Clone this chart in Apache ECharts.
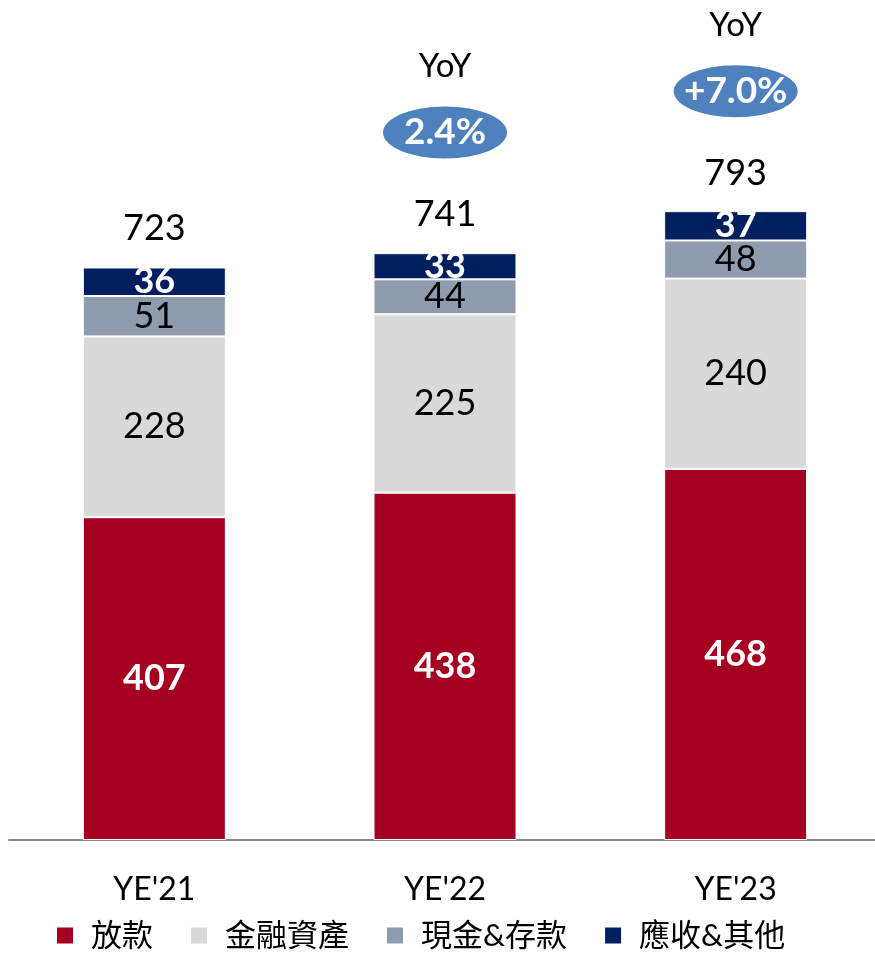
<!DOCTYPE html>
<html><head><meta charset="utf-8">
<script src="https://cdn.jsdelivr.net/npm/echarts@6/dist/echarts.min.js"></script>
<style>html,body{margin:0;padding:0;background:#fff;overflow:hidden;width:875px;height:953px}#c{width:890px;height:953px}</style>
</head><body><div id="c"></div>
<script>
const categories = ["YE'21", "YE'22", "YE'23"];
const loans = [407, 438, 468];
const finAssets = [228, 225, 240];
const cashDeposits = [51, 44, 48];
const receivables = [36, 33, 37];
const totals = [723, 741, 793];
const yoyLabels = [null, "2.4%", "+7.0%"];
const seriesNames = ["放款", "金融資產", "現金&存款", "應收&其他"];

const FONT = "Lato, 'Noto Sans CJK TC', sans-serif";
const chart = echarts.init(document.getElementById('c'));

function barSeries(name, data, color, labelColor, bold) {
  return {
    name, type: 'bar', stack: 'total', data, barWidth: 143,
    itemStyle: { color, borderColor: '#fff', borderWidth: 1 },
    label: { show: true, position: 'inside', color: labelColor, fontFamily: FONT,
      fontSize: 36, fontWeight: bold ? 'bold' : 'normal' }
  };
}

chart.setOption({
  animation: false,
  grid: { left: 9, width: 872, top: 47, bottom: 113 },
  legend: {
    bottom: -3, left: 50, itemWidth: 18, itemHeight: 18, itemGap: 36,
    icon: 'rect', data: seriesNames,
    textStyle: { fontFamily: FONT, fontSize: 31, color: '#000', padding: [0, 0, 0, 12] }
  },
  xAxis: {
    type: 'category', data: categories,
    axisLine: { lineStyle: { color: '#898989', width: 2 } },
    axisTick: { show: false },
    axisLabel: { color: '#000', fontFamily: FONT, fontSize: 32, margin: 34 }
  },
  yAxis: { type: 'value', min: 0, max: 1000, show: false, splitLine: { show: false } },
  series: [
    barSeries(seriesNames[0], loans, '#A50021', '#fff', true),
    barSeries(seriesNames[1], finAssets, '#D9D9D9', '#000', false),
    barSeries(seriesNames[2], cashDeposits, '#8F9CAE', '#000', false),
    barSeries(seriesNames[3], receivables, '#001F5F', '#fff', true),
    {
      type: 'custom', silent: true,
      data: totals.map((t, i) => [i, t]),
      renderItem: function (params, api) {
        const i = api.value(0);
        const p = api.coord([i, api.value(1)]);
        const children = [{
          type: 'text', x: p[0], y: p[1] - 38,
          style: { text: String(totals[i]), fontSize: 36, fontFamily: FONT, fill: '#000',
            align: 'center', verticalAlign: 'middle' }
        }];
        if (yoyLabels[i]) {
          children.push({
            type: 'ellipse', shape: { cx: p[0], cy: p[1] - 120, rx: 62, ry: 26 },
            style: { fill: '#4F81BD' }
          });
          children.push({
            type: 'text', x: p[0], y: p[1] - 120,
            style: { text: yoyLabels[i], fontSize: 37, fontWeight: 'bold', fontFamily: FONT,
              fill: '#fff', align: 'center', verticalAlign: 'middle' }
          });
          children.push({
            type: 'text', x: p[0], y: p[1] - 186,
            style: { text: 'YoY', fontSize: 33, fontFamily: FONT, fill: '#000',
              align: 'center', verticalAlign: 'middle' }
          });
        }
        return { type: 'group', children };
      },
      z: 10
    }
  ]
});
</script></body></html>
